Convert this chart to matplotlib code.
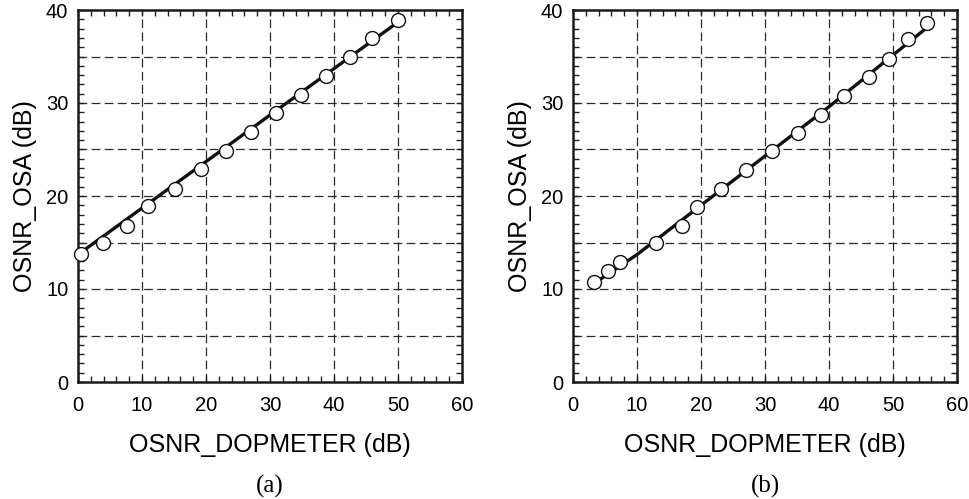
import matplotlib
matplotlib.use("Agg")
import matplotlib.pyplot as plt
from matplotlib import font_manager
from matplotlib.ticker import MultipleLocator

# ---- data ----
a_x = [0.4, 3.9, 7.6, 11.0, 15.1, 19.2, 23.1, 27.0, 30.9, 34.8, 38.7, 42.5, 45.9, 50.0]
a_y = [13.8, 14.9, 16.8, 18.9, 20.8, 22.9, 24.8, 26.9, 28.9, 30.9, 32.9, 34.9, 37.0, 38.9]
a_fit_x = [0.4, 50.0]
a_fit_y = [13.9, 38.7]

b_x = [3.3, 5.4, 7.3, 12.9, 17.0, 19.3, 23.2, 27.1, 31.1, 35.1, 38.8, 42.4, 46.2, 49.3, 52.3, 55.3]
b_y = [10.8, 11.9, 12.9, 14.9, 16.8, 18.8, 20.8, 22.8, 24.8, 26.8, 28.75, 30.7, 32.8, 34.75, 36.9, 38.6]
b_fit_x = [3.3, 10.0, 40.0, 55.3]
b_fit_y = [10.6, 13.7, 29.6, 38.1]

x_label = "OSNR_DOPMETER (dB)"
y_label = "OSNR_OSA (dB)"
captions = ["(a)", "(b)"]

# ---- fonts ----
def pick(names):
    for n in names:
        try:
            font_manager.findfont(font_manager.FontProperties(family=n), fallback_to_default=False)
            return n
        except Exception:
            pass
    return "DejaVu Sans"

sans = pick(["Liberation Sans", "DejaVu Sans"])
serif = pick(["Liberation Serif", "DejaVu Serif"])
label_fs = 18
tick_fs = 14.5

plt.rcParams['font.family'] = [sans, 'DejaVu Sans']

fig = plt.figure(figsize=(9.70, 4.99), dpi=100)
W, H = 970, 499
panels = [
    (78, a_x, a_y, a_fit_x, a_fit_y, 25),
    (573, b_x, b_y, b_fit_x, b_fit_y, 520),
]
top_px, bot_px, w_px = 10, 382, 384

for i, (left_px, xs, ys, fx, fy, ylab_px) in enumerate(panels):
    ax = fig.add_axes([left_px / W, 1 - bot_px / H, w_px / W, (bot_px - top_px) / H])
    ax.set_xlim(0, 60)
    ax.set_ylim(0, 40)
    ax.xaxis.set_major_locator(MultipleLocator(10))
    ax.xaxis.set_minor_locator(MultipleLocator(2))
    ax.yaxis.set_major_locator(MultipleLocator(10))
    ax.yaxis.set_minor_locator(MultipleLocator(1))
    # dashed grid
    for gx in range(10, 60, 10):
        ax.axvline(gx, color='#2a2a2a', lw=0.9, ls=(0, (7, 3.5)), zorder=1)
    for gy in range(5, 40, 5):
        ax.axhline(gy, color='#2a2a2a', lw=0.9, ls=(0, (7, 3.5)), zorder=1)
    ax.tick_params(which='both', direction='in', top=True, right=True,
                   width=1.0, color='#222222', length=4.5)
    ax.tick_params(axis='x', which='major', pad=10, labelsize=tick_fs)
    ax.tick_params(axis='y', which='major', pad=7, labelsize=tick_fs)
    for sp in ax.spines.values():
        sp.set_linewidth(1.8)
        sp.set_color('#1a1a1a')
    ax.plot(fx, fy, color='#111111', lw=2.4, zorder=3, solid_capstyle='round')
    ax.plot(xs, ys, ls='none', marker='o', ms=10, mfc='white', mec='#111111',
            mew=1.0, zorder=4, clip_on=False)
    ax.set_xlabel(x_label, fontsize=label_fs, va='center')
    ax.xaxis.set_label_coords(0.5, (bot_px - 445) / (bot_px - top_px))
    ax.set_ylabel(y_label, fontsize=label_fs, va='center')
    ax.yaxis.set_label_coords((ylab_px - left_px) / w_px, 0.5)
    ax.text(0.5, (bot_px - 486) / (bot_px - top_px), captions[i], transform=ax.transAxes,
            ha='center', va='center', fontsize=18, family=serif)

fig.savefig("out.png", dpi=100)
